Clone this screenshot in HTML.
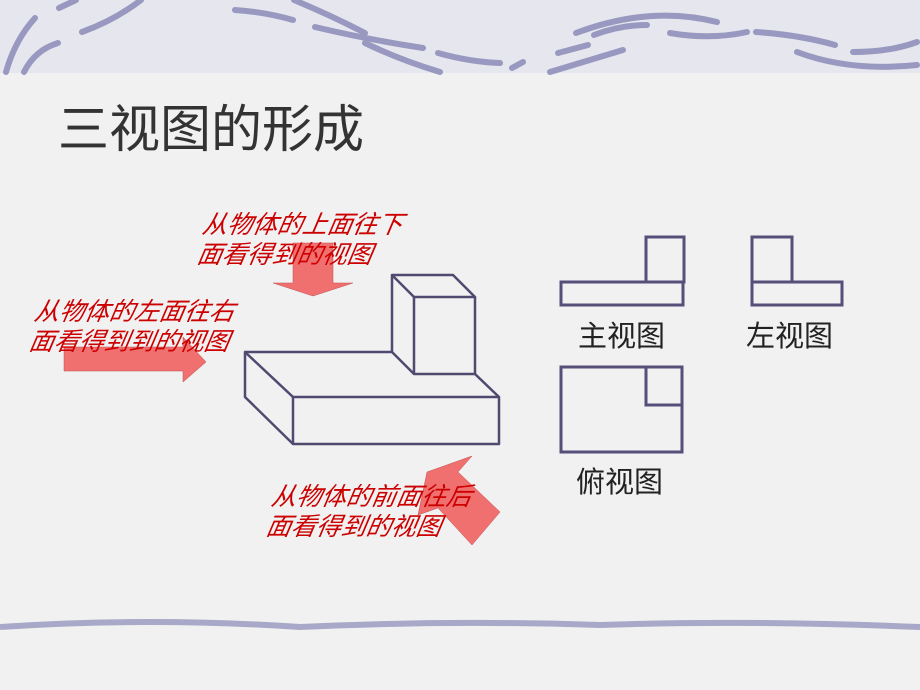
<!DOCTYPE html>
<html><head><meta charset="utf-8"><style>
body{margin:0;width:920px;height:690px;overflow:hidden;background:#f1f1f1;font-family:"Liberation Sans","Noto Sans CJK SC",sans-serif;position:relative}
.t{position:absolute;white-space:nowrap}
.r{color:#cc0000;font-style:italic;font-size:25px;line-height:30px;transform:skewX(-10deg)}
.v{font-size:29px;color:#222}
</style></head><body>
<svg width="920" height="690" style="position:absolute;left:0;top:0">
<rect x="0" y="0" width="920" height="73" fill="#e6e6ee"/>
<g stroke="#9898c0" stroke-width="6" fill="none" stroke-linecap="round">
<path d="M6 72 Q15 40 35 18"/><path d="M24 72 Q35 50 58 43"/><path d="M59 8 L76 0"/>
<path d="M82 32 Q115 20 141 0"/><path d="M235 10 Q265 12 293 20"/><path d="M294 0 Q330 15 365 33"/>
<path d="M315 27 Q370 40 423 48"/><path d="M365 43 Q400 60 440 72"/><path d="M438 53 Q470 62 500 63"/>
<path d="M512 68 L523 62"/><path d="M550 72 Q590 60 623 50"/><path d="M558 53 L588 45"/>
<path d="M576 33 Q650 5 717 22"/><path d="M594 35 Q620 25 647 25"/><path d="M670 33 Q710 40 747 32"/>
<path d="M756 32 Q800 35 835 45"/><path d="M853 52 Q890 52 917 42"/><path d="M797 52 Q850 72 917 65"/>
</g>
<path d="M0 627 Q150 617 300 627 Q450 620 600 625 Q750 620 920 627" stroke="#a8a8c8" stroke-width="6" fill="none"/>
<g fill="#f07070" stroke="#c05050" stroke-width="0.5">
<polygon points="293,243 333,243 333,283 353,283 313,296 273,283 293,283"/>
<polygon points="64,347 183,347 183,337 206,362 183,382 183,371 64,371"/>
<polygon points="472,456 458,472 500,512 472,545 438,508 418,515 427,472"/>
</g>
<g stroke="#4e4a70" stroke-width="2.5" fill="none" stroke-linejoin="round">
<path d="M245,352 L392,352 L392,275 L453,275 L475,297 L414,297 L392,275"/>
<path d="M414,297 L414,374 L475,374 L475,297"/>
<path d="M392,352 L414,374"/>
<path d="M475,374 L499,397 L293,397 L245,352 L245,397 L293,444 L499,444 L499,397"/>
<path d="M293,397 L293,444"/>
</g>
<g stroke="#55507a" stroke-width="3" fill="none">
<rect x="561" y="282" width="122" height="23"/><rect x="646" y="237" width="38" height="45"/>
<rect x="752" y="282" width="90" height="23"/><rect x="752" y="237" width="40" height="45"/>
<rect x="561" y="367" width="121" height="85"/><path d="M646 367 L646 405 L682 405"/>
</g>
</svg>
<div class="t" style="left:58px;top:88px;font-size:51px;color:#333">三视图的形成</div>
<div class="t r" style="left:200px;top:210px">从物体的上面往下<br>面看得到的视图</div>
<div class="t r" style="left:32px;top:297px">从物体的左面往右<br>面看得到到的视图</div>
<div class="t r" style="left:269px;top:482px">从物体的前面往后<br>面看得到的视图</div>
<div class="t v" style="left:578px;top:313px">主视图</div>
<div class="t v" style="left:746px;top:313px">左视图</div>
<div class="t v" style="left:576px;top:459px">俯视图</div>
</body></html>
